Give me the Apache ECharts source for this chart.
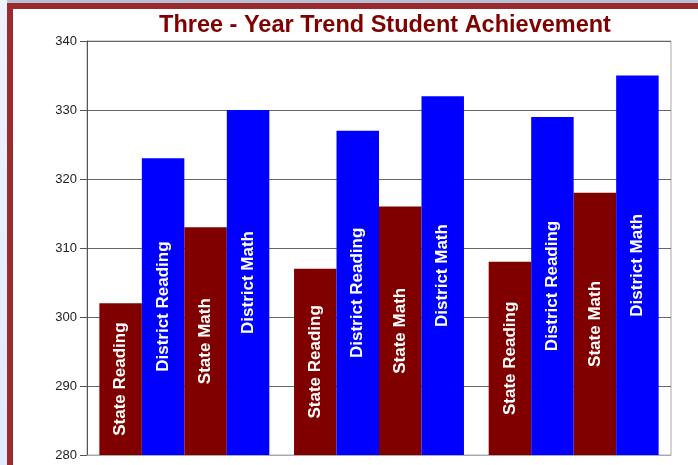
<!DOCTYPE html>
<html>
<head>
<meta charset="utf-8">
<script src="https://cdn.jsdelivr.net/npm/echarts@6/dist/echarts.min.js"></script>
<style>
html,body{margin:0;padding:0;width:698px;height:465px;overflow:hidden;background:linear-gradient(#eef3fd,#dfeafc);}
#topstrip{position:absolute;left:7px;top:0;width:691px;height:3px;background:#b9c1d6;}
#frame{position:absolute;left:7px;top:3px;width:685px;height:456px;border-left:6px solid #9a2b2f;border-top:6px solid #9a2b2f;background:#fff;}
#chart{position:absolute;left:13px;top:9px;width:685px;height:456px;}
</style>
</head>
<body>
<div id="topstrip"></div>
<div id="frame"></div>
<div id="chart"></div>
<script>
var categories = ['Year 1', 'Year 2', 'Year 3'];
var seriesNames = ['State Reading', 'District Reading', 'State Math', 'District Math'];
var stateReading = [302, 307, 308];
var districtReading = [323, 327, 329];
var stateMath = [313, 316, 318];
var districtMath = [330, 332, 335];
var yTicks = [280, 290, 300, 310, 320, 330, 340];

var values = [stateReading, districtReading, stateMath, districtMath];
var colors = ['#800000', '#0000ff', '#800000', '#0000ff'];

var chart = echarts.init(document.getElementById('chart'));
chart.setOption({
  animation: false,
  title: {
    text: 'Three - Year Trend Student Achievement',
    left: 367, top: 0, textAlign: 'center',
    textStyle: {fontFamily: 'Liberation Sans, Arial, sans-serif', fontWeight: 'bold', fontSize: 23.5, color: '#800000'}
  },
  grid: {left: 74, right: 27, top: 32, bottom: 10, show: true, borderColor: '#aaaaaa', borderWidth: 1, backgroundColor: '#fff'},
  xAxis: {
    type: 'category', data: categories,
    axisLine: {show: true, lineStyle: {color: '#aaaaaa'}},
    axisTick: {show: false}, axisLabel: {show: false}
  },
  yAxis: {
    type: 'value', min: yTicks[0], max: yTicks[yTicks.length - 1], interval: 10,
    axisLine: {show: true, lineStyle: {color: '#555'}},
    axisTick: {show: true, length: 7, lineStyle: {color: '#555'}},
    axisLabel: {color: '#222', fontFamily: 'Liberation Sans, Arial, sans-serif', fontSize: 13, margin: 10},
    splitLine: {show: true, lineStyle: {color: '#666', width: 1}}
  },
  series: seriesNames.map(function (name, i) {
    return {
      name: name, type: 'bar', data: values[i],
      barGap: '0%', barCategoryGap: '12.7%',
      itemStyle: {color: colors[i]},
      label: {
        show: true, position: 'inside', rotate: 90,
        align: 'center', verticalAlign: 'middle',
        formatter: function () { return name; },
        color: '#fff', fontWeight: 'bold', fontSize: 17,
        fontFamily: 'Liberation Sans, Arial, sans-serif'
      }
    };
  })
});
</script>
</body>
</html>
